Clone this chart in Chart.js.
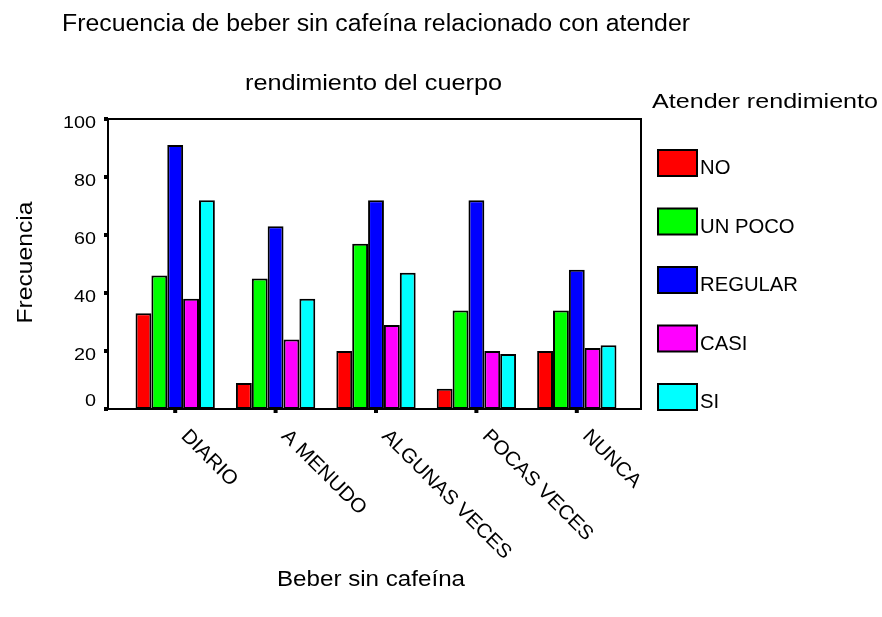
<!DOCTYPE html>
<html>
<head>
<meta charset="utf-8">
<script src="https://cdn.jsdelivr.net/npm/chart.js@4.4.1/dist/chart.umd.min.js"></script>
<style>
  html, body { margin: 0; padding: 0; background: #fff; }
  #wrap { width: 882px; height: 617px; }
</style>
</head>
<body>
<div id="wrap"><canvas id="barChart" width="882" height="617"></canvas></div>
<script>
// Beber sin cafeína x Atender rendimiento (frecuencias)
const categorias = ['DIARIO', 'A MENUDO', 'ALGUNAS VECES', 'POCAS VECES', 'NUNCA'];
const valoresNo = [33, 9, 20, 7, 20];
const valoresUnPoco = [46, 45, 57, 34, 34];
const valoresRegular = [91, 63, 72, 72, 48];
const valoresCasi = [38, 24, 29, 20, 21];
const valoresSi = [72, 38, 47, 19, 22];
const ticksY = [0, 20, 40, 60, 80, 100];

const FUENTE = '"Liberation Sans", Arial, Helvetica, sans-serif';

function serie(label, data, color) {
    return {
        label: label,
        data: data,
        backgroundColor: color,
        borderColor: '#000',
        borderWidth: 2,
        borderSkipped: false,
        categoryPercentage: 0.79,
        barPercentage: 1.0
    };
}

// texto ensanchado horizontalmente (sx) al estilo del original
function texto(ctx, str, x, y, size, sx, align) {
    ctx.save();
    ctx.font = size + 'px ' + FUENTE;
    ctx.textAlign = align || 'left';
    ctx.textBaseline = 'alphabetic';
    ctx.translate(x, y);
    ctx.scale(sx, 1);
    ctx.fillText(str, 0, 0);
    ctx.restore();
}

// factor de ancho para que una cadena ocupe 'ancho' px
function factor(ctx, str, size, ancho) {
    ctx.save();
    ctx.font = size + 'px ' + FUENTE;
    const w = ctx.measureText(str).width;
    ctx.restore();
    return ancho / w;
}

// marco del gráfico, marcas y etiquetas de los ejes
const ejes = {
    id: 'ejes',
    afterDatasetsDraw(chart) {
        const ctx = chart.ctx;
        const area = chart.chartArea;
        const x0 = 108, x1 = 641;
        ctx.save();
        ctx.strokeStyle = '#000';
        ctx.lineWidth = 2;
        ctx.strokeRect(x0, area.top, x1 - x0, area.bottom - area.top);

        ctx.fillStyle = '#000';
        const ys = chart.scales.y;
        const fy = factor(ctx, '100', 17, 33);
        ticksY.forEach(v => {
            const py = ys.getPixelForValue(v);
            ctx.fillRect(x0 - 4, py - 2, 4, 4);
            const ly = Math.min(py + 2.5, area.bottom - 9);
            texto(ctx, String(v), 96, ly + 6, 17, fy, 'right');
        });

        const xs = chart.scales.x;
        categorias.forEach((c, i) => {
            const px = xs.getPixelForTick(i);
            ctx.fillRect(px - 2, area.bottom, 4, 4);
            // etiquetas de categoría giradas 45°
            ctx.save();
            ctx.translate(px + 5, area.bottom + 28);
            ctx.rotate(Math.PI / 4);
            texto(ctx, c, 0, 0, 20, 1.03, 'left');
            ctx.restore();
        });
        ctx.restore();
    },
    afterDraw(chart) {
        const ctx = chart.ctx;
        ctx.save();
        ctx.fillStyle = '#000';

        texto(ctx, 'Frecuencia de beber sin cafeína relacionado con atender', 376, 31, 23,
            factor(ctx, 'Frecuencia de beber sin cafeína relacionado con atender', 23, 628), 'center');
        texto(ctx, 'rendimiento del cuerpo', 373.5, 90, 22,
            factor(ctx, 'rendimiento del cuerpo', 22, 257), 'center');
        texto(ctx, 'Beber sin cafeína', 371, 586, 22,
            factor(ctx, 'Beber sin cafeína', 22, 188), 'center');

        ctx.save();
        ctx.translate(32, 262.5);
        ctx.rotate(-Math.PI / 2);
        texto(ctx, 'Frecuencia', 0, 0, 22, factor(ctx, 'Frecuencia', 22, 122), 'center');
        ctx.restore();

        // leyenda
        texto(ctx, 'Atender rendimiento', 652, 108, 21,
            factor(ctx, 'Atender rendimiento', 21, 226), 'left');

        const fl = factor(ctx, 'REGULAR', 20, 98);
        chart.data.datasets.forEach((ds, i) => {
            const cy = 163 + i * 58.5;
            ctx.fillStyle = ds.backgroundColor;
            ctx.fillRect(658, cy - 13, 39, 26);
            ctx.strokeStyle = '#000';
            ctx.lineWidth = 2;
            ctx.strokeRect(658, cy - 13, 39, 26);
            ctx.fillStyle = '#000';
            texto(ctx, ds.label, 700, cy + 11, 20, fl, 'left');
        });
        ctx.restore();
    }
};

new Chart(document.getElementById('barChart'), {
    type: 'bar',
    data: {
        labels: categorias,
        datasets: [
            serie('NO', valoresNo, '#ff0000'),
            serie('UN POCO', valoresUnPoco, '#00ff00'),
            serie('REGULAR', valoresRegular, '#0000ff'),
            serie('CASI', valoresCasi, '#ff00ff'),
            serie('SI', valoresSi, '#00ffff')
        ]
    },
    options: {
        responsive: false,
        animation: false,
        events: [],
        layout: {
            padding: { top: 119, right: 255, bottom: 208, left: 0 }
        },
        plugins: {
            legend: { display: false },
            tooltip: { enabled: false }
        },
        scales: {
            x: {
                grid: { display: false, drawTicks: false },
                border: { display: false },
                ticks: { display: false },
                afterFit: s => { s.height = 0; }
            },
            y: {
                min: 0,
                max: 100,
                grid: { display: false, drawTicks: false },
                border: { display: false },
                afterBuildTicks: s => { s.ticks = ticksY.map(v => ({ value: v })); },
                afterFit: s => { s.width = 125; },
                ticks: { display: false }
            }
        }
    },
    plugins: [ejes]
});
</script>
</body>
</html>
